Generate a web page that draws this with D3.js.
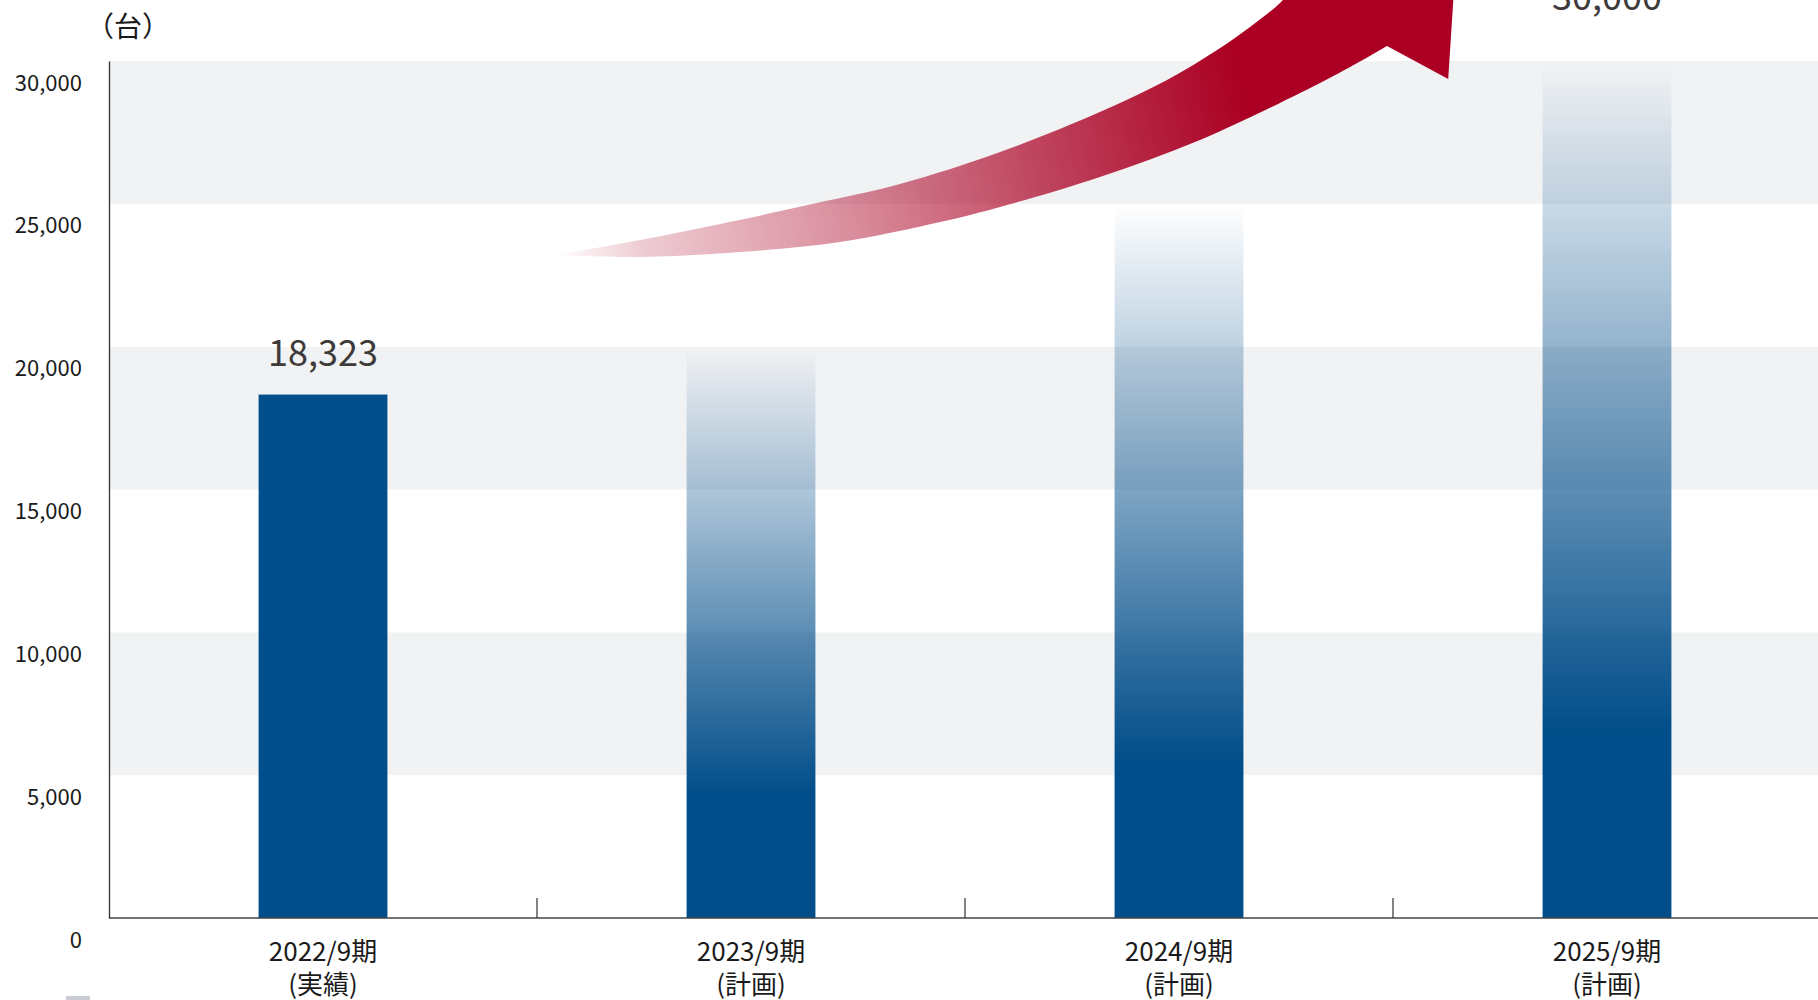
<!DOCTYPE html>
<html>
<head>
<meta charset="utf-8">
<script src="https://cdn.jsdelivr.net/npm/d3@7"></script>
<style>
  html, body { margin: 0; padding: 0; background: #fff; overflow: hidden; }
  svg { display: block; font-family: "Noto Sans CJK JP", "Noto Sans", sans-serif; }
</style>
</head>
<body>
<svg id="chart"></svg>
<script>
// chart values
const categories = ["2022/9期", "2023/9期", "2024/9期", "2025/9期"];
const subLabels = ["(実績)", "(計画)", "(計画)", "(計画)"];
const values = [18323, 20000, 25000, 30000];
const isActual = [true, false, false, false];
const valueLabels = ["18,323", "", "", "30,000"];
const yTicks = [0, 5000, 10000, 15000, 20000, 25000, 30000];
const unitLabel = "（台）";

// decorative arrow, in [band units from plot left, value]
const arrowTop = [
  [1.044, 23209], [1.241, 23734], [1.428, 24294], [1.643, 24994],
  [1.848, 25694], [2.082, 26814], [2.315, 28215], [2.472, 29335],
  [2.589, 30385], [2.666, 31190], [2.736, 32030], [2.783, 32835]
];
const arrowHead = [[3.150, 34236], [3.129, 29370]];
const arrowBottom = [
  [2.986, 30525], [2.900, 29790], [2.783, 28880], [2.549, 27235],
  [2.315, 25939], [2.082, 24889], [1.942, 24364], [1.708, 23664],
  [1.474, 23314], [1.241, 23139], [1.044, 23209]
];

const width = 1818, height = 1000;
const margin = { top: 61, left: 109, bottom: 82 };
const step = 428;

const svg = d3.select("#chart").attr("width", width).attr("height", height);

const x = d3.scaleBand()
  .domain(categories)
  .range([margin.left, margin.left + step * categories.length])
  .padding(0);
const y = d3.scaleLinear()
  .domain([0, 30000])
  .range([height - margin.bottom, margin.top]);

const defs = svg.append("defs");
const barGrad = defs.append("linearGradient")
  .attr("id", "barFade")
  .attr("x1", 0).attr("y1", 1).attr("x2", 0).attr("y2", 0);
barGrad.append("stop").attr("offset", 0).attr("stop-color", "#024e8a").attr("stop-opacity", 1);
barGrad.append("stop").attr("offset", 0.22).attr("stop-color", "#024e8a").attr("stop-opacity", 1);
barGrad.append("stop").attr("offset", 1).attr("stop-color", "#024e8a").attr("stop-opacity", 0);

const xu = (u) => x.range()[0] + u * x.step();

const arrowGrad = defs.append("linearGradient")
  .attr("id", "arrowFade")
  .attr("gradientUnits", "userSpaceOnUse")
  .attr("x1", xu(arrowTop[0][0])).attr("y1", y(arrowTop[0][1]))
  .attr("x2", xu(2.65)).attr("y2", y(28635));
[[0, 0], [0.12, 0.2], [0.42, 0.45], [0.72, 0.74], [1, 1]].forEach(([o, a]) => {
  arrowGrad.append("stop").attr("offset", o).attr("stop-color", "#ab0023").attr("stop-opacity", a);
});

// background bands
const bands = svg.append("g");
for (let i = 0; i < yTicks.length - 1; i++) {
  bands.append("rect")
    .attr("x", margin.left)
    .attr("y", y(yTicks[i + 1]))
    .attr("width", width - margin.left)
    .attr("height", y(yTicks[i]) - y(yTicks[i + 1]))
    .attr("fill", i % 2 === 1 ? "#f1f2f4" : "#ffffff");
}

// bars
const barW = x.bandwidth() * 0.301;
svg.append("g").selectAll("rect")
  .data(categories)
  .join("rect")
  .attr("x", (d) => x(d) + (x.bandwidth() - barW) / 2)
  .attr("y", (d, i) => y(values[i]))
  .attr("width", barW)
  .attr("height", (d, i) => y(0) - y(values[i]))
  .attr("fill", (d, i) => isActual[i] ? "#024e8a" : "url(#barFade)");

// arrow
const edge = d3.line().x((d) => xu(d[0])).y((d) => y(d[1])).curve(d3.curveCatmullRom);
const headPart = arrowHead.map((d) => `L${xu(d[0])},${y(d[1])}`).join("");
const arrowPath = edge(arrowTop) + headPart + edge(arrowBottom).replace(/^M/, "L") + "Z";
svg.append("path").attr("d", arrowPath).attr("fill", "url(#arrowFade)");

// y axis
const yAxis = svg.append("g")
  .attr("transform", `translate(${margin.left},0)`)
  .call(d3.axisLeft(y).tickValues(yTicks).tickSize(0).tickPadding(27).tickFormat(d3.format(",")))
  .attr("font-family", null)
  .attr("font-size", null);
yAxis.select(".domain").attr("stroke", "#333").attr("stroke-width", 1.3);
yAxis.selectAll("text")
  .attr("y", 29).attr("dy", 0)
  .attr("font-size", 22).attr("fill", "#1a1a1a");

// x axis line and separators
const xAxis = svg.append("g");
xAxis.append("line")
  .attr("x1", margin.left).attr("x2", width)
  .attr("y1", y(0)).attr("y2", y(0))
  .attr("stroke", "#444").attr("stroke-width", 1.6);
xAxis.selectAll(".sep")
  .data(categories.slice(1))
  .join("line")
  .attr("x1", (d) => x(d)).attr("x2", (d) => x(d))
  .attr("y1", y(0)).attr("y2", y(0) - 20)
  .attr("stroke", "#333").attr("stroke-width", 1.2);

const xl = xAxis.selectAll(".xl")
  .data(categories)
  .join("text")
  .attr("text-anchor", "middle")
  .attr("font-size", 26)
  .attr("fill", "#1a1a1a");
xl.append("tspan")
  .attr("x", (d) => x(d) + x.bandwidth() / 2)
  .attr("y", y(0) + 43)
  .text((d) => d);
xl.append("tspan")
  .attr("x", (d) => x(d) + x.bandwidth() / 2)
  .attr("y", y(0) + 76)
  .text((d, i) => subLabels[i]);

// value labels
const labelOffset = [29, 0, 0, 51];
svg.append("g").selectAll("text")
  .data(categories)
  .join("text")
  .attr("x", (d) => x(d) + x.bandwidth() / 2)
  .attr("y", (d, i) => y(values[i]) - labelOffset[i])
  .attr("text-anchor", "middle")
  .attr("font-size", 36)
  .attr("fill", "#3e3a39")
  .text((d, i) => valueLabels[i]);

// unit
svg.append("text")
  .attr("x", 86).attr("y", 37)
  .attr("font-size", 28)
  .attr("fill", "#1a1a1a")
  .text(unitLabel);

// cut-off swatch at the bottom edge
svg.append("rect")
  .attr("x", 66).attr("y", 996).attr("width", 24).attr("height", 6)
  .attr("fill", "#c9ccd2");
</script>
</body>
</html>
